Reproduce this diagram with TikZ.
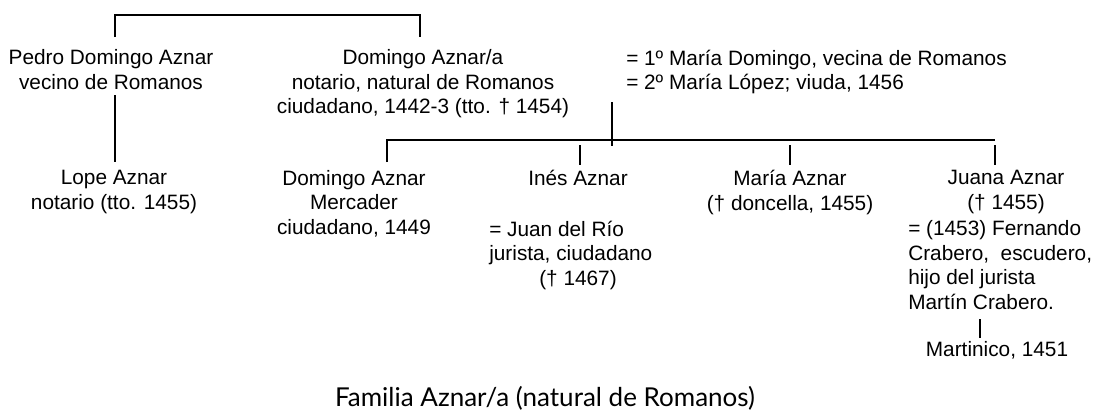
\documentclass[tikz,border=0pt]{standalone}
\usepackage{fontspec}
\setmainfont{Liberation Sans}
\newfontfamily\captionfont{Lato}
\begin{document}
\begin{tikzpicture}[x=0.75pt,y=-0.75pt,
  txt/.style={inner sep=0pt,anchor=north,align=center,font=\fontsize{15.6pt}{18.4pt}\selectfont},
  ltxt/.style={inner sep=0pt,anchor=north west,align=left,font=\fontsize{15.6pt}{18.4pt}\selectfont},
  lnk/.style={draw=black,line width=1.5pt},
  blnk/.style={draw=black,line width=1.8pt}]
\useasboundingbox (0,0) rectangle (1095,415);
% persons
\node[txt] (pedro) at (111,49.5) {Pedro Domingo Aznar\\vecino de Romanos};
\node[txt] (domingo) at (423,49.5) {Domingo Aznar/a\\notario, natural de Romanos\\ciudadano, 1442-3 (tto. † 1454)};
\node[ltxt] (marr) at (626,49.5) {= 1º María Domingo, vecina de Romanos\\= 2º María López; viuda, 1456};
\node[txt] (lope) at (114,170) {Lope Aznar\\notario (tto. 1455)};
\node[txt] (domchild) at (354,170) {Domingo Aznar\\Mercader\\ciudadano, 1449};
\node[txt] (ines) at (578,170) {Inés Aznar};
\node[ltxt] (inessp) at (489,220.5) {= Juan del Río\\jurista, ciudadano\\\hspace*{37.5pt}(† 1467)};
\node[txt] (maria) at (790,170) {María Aznar\\(† doncella, 1455)};
\node[txt] (juana) at (1006,170) {Juana Aznar\\(† 1455)};
\node[ltxt] (juanasp) at (908,220.5) {= (1453) Fernando\\Crabero,\ \ escudero,\\hijo del jurista\\Martín Crabero.};
\node[txt] (martinico) at (997,341) {Martinico, 1451};
\node[inner sep=0pt,font=\captionfont\fontsize{19.5pt}{22pt}\selectfont] (caption) at (545,398) {Familia Aznar/a (natural de Romanos)};
% connector coordinates
\coordinate (tl) at (115,15);
\coordinate (tr) at (420,15);
\coordinate (tlb) at (115,37);
\coordinate (trb) at (420,37);
\coordinate (pl1) at (115,95);
\coordinate (pl2) at (115,162);
\coordinate (mv1) at (612,102);
\coordinate (mv2) at (612,146);
\coordinate (bl) at (387,140);
\coordinate (br) at (995,140);
\coordinate (bld) at (387,162);
\coordinate (id1) at (580,145);
\coordinate (id2) at (580,165);
\coordinate (md1) at (790,145);
\coordinate (md2) at (790,165);
\coordinate (jd1) at (995,145);
\coordinate (jd2) at (995,165);
\coordinate (cv1) at (980,319);
\coordinate (cv2) at (980,338);
% connectors
\draw[blnk] (tlb) -- (tl) -- (tr) -- (trb);
\draw[lnk] (pl1) -- (pl2);
\draw[lnk] (mv1) -- (mv2);
\draw[lnk] (bld) -- (bl) -- (br);
\draw[lnk] (id1) -- (id2);
\draw[lnk] (md1) -- (md2);
\draw[lnk] (jd1) -- (jd2);
\draw[lnk] (cv1) -- (cv2);
\end{tikzpicture}
\end{document}
